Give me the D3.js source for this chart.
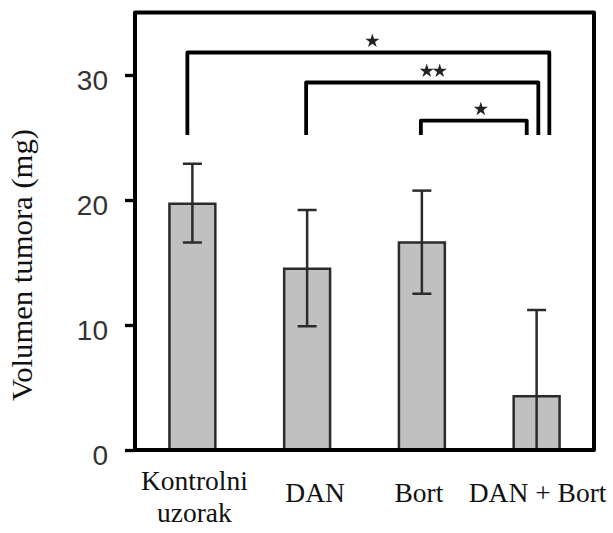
<!DOCTYPE html>
<html>
<head>
<meta charset="utf-8">
<script src="https://cdn.jsdelivr.net/npm/d3@7"></script>
<style>
  html, body { margin: 0; padding: 0; background: #fff; }
  svg { display: block; }
</style>
</head>
<body>
<div id="chart"></div>
<script>
// ---- data ----
const categories = ["Kontrolni uzorak", "DAN", "Bort", "DAN + Bort"];
const labelLines = [["Kontrolni", "uzorak"], ["DAN"], ["Bort"], ["DAN + Bort"]];
const means = [19.7, 14.5, 16.6, 4.3];
const errHigh = [22.9, 19.2, 20.75, 11.2];
const errLow = [16.6, 9.9, 12.5, 0];
const yTicks = [0, 10, 20, 30];
const yTitle = "Volumen tumora (mg)";
// significance brackets
const bracketFrom = [0, 1, 2];
const bracketTo = [3, 3, 3];
const bracketLevel = [31.8, 29.4, 26.35];
const bracketBase = 25.2;
const bracketStars = [1, 2, 1];

// ---- layout ----
const W = 613, H = 533;
const margin = { left: 135, right: 19, top: 12.5, bottom: 83 };

const svg = d3.select("#chart").append("svg")
  .attr("width", W).attr("height", H);
svg.append("rect").attr("width", W).attr("height", H).attr("fill", "#fff");

const x = d3.scaleBand()
  .domain(categories)
  .range([margin.left, W - margin.right])
  .paddingInner(0.6)
  .paddingOuter(0.3);

const y = d3.scaleLinear()
  .domain([0, 35])
  .range([H - margin.bottom, margin.top]);

const cx = i => x(categories[i]) + x.bandwidth() / 2;

// bars
svg.append("g").selectAll("rect")
  .data(categories)
  .join("rect")
  .attr("x", d => x(d))
  .attr("width", x.bandwidth())
  .attr("y", (d, i) => y(means[i]))
  .attr("height", (d, i) => y(0) - y(means[i]))
  .attr("fill", "#c0c0c0")
  .attr("stroke", "#2b2b2b")
  .attr("stroke-width", 2.5);

// error bars
const eb = svg.append("g").attr("stroke", "#2b2b2b").attr("stroke-width", 2.5).attr("fill", "none");
categories.forEach((c, i) => {
  const xc = cx(i);
  eb.append("line").attr("x1", xc).attr("x2", xc).attr("y1", y(errHigh[i])).attr("y2", y(errLow[i]));
  eb.append("line").attr("x1", xc - 9.5).attr("x2", xc + 9.5).attr("y1", y(errHigh[i])).attr("y2", y(errHigh[i]));
  if (errLow[i] > 0)
    eb.append("line").attr("x1", xc - 9.5).attr("x2", xc + 9.5).attr("y1", y(errLow[i])).attr("y2", y(errLow[i]));
});

// frame
svg.append("rect")
  .attr("x", margin.left).attr("y", y(35))
  .attr("width", W - margin.right - margin.left)
  .attr("height", y(0) - y(35))
  .attr("fill", "none").attr("stroke", "#000").attr("stroke-width", 4)
  .attr("stroke-linejoin", "round");

// y axis
const yAxis = svg.append("g")
  .attr("transform", `translate(${margin.left},0)`)
  .call(d3.axisLeft(y).tickValues(yTicks).tickSize(10).tickSizeOuter(0).tickPadding(17));
yAxis.select(".domain").remove();
yAxis.selectAll(".tick line").attr("stroke", "#000").attr("stroke-width", 3.3);
yAxis.selectAll(".tick text")
  .attr("font-family", "'Liberation Sans', Arial, sans-serif")
  .attr("font-size", 28)
  .attr("fill", "#333")
  .attr("dy", "0.5em");

// y title
svg.append("text")
  .attr("transform", "translate(32,265) rotate(-90)")
  .attr("text-anchor", "middle")
  .attr("font-family", "'Liberation Serif', 'Times New Roman', serif")
  .attr("font-size", 30)
  .attr("textLength", 272)
  .attr("lengthAdjust", "spacingAndGlyphs")
  .attr("fill", "#111")
  .text(yTitle);

// x labels
const xl = svg.append("g")
  .attr("font-family", "'Liberation Serif', 'Times New Roman', serif")
  .attr("font-size", 27.5)
  .attr("fill", "#111")
  .attr("text-anchor", "middle");
const labelDx = [2, 8, -3, 1];
labelLines.forEach((lines, i) => {
  const t = xl.append("text").attr("x", cx(i) + labelDx[i]);
  if (lines.length === 1) {
    t.attr("y", 502).text(lines[0]);
  } else {
    lines.forEach((ln, k) => {
      t.append("tspan").attr("x", cx(i) + labelDx[i]).attr("y", 490 + k * 31.5).text(ln);
    });
  }
});

// significance brackets
const leftDx = [-5, -1, -1];
const rightDx = [12.7, 1.7, -9.9];
const starDx = [4, 11, 7];
const br = svg.append("g");
const star = d3.symbol().type(d3.symbolStar).size(62);
bracketFrom.forEach((f, i) => {
  const x1 = cx(f) + leftDx[i];
  const x2 = cx(bracketTo[i]) + rightDx[i];
  const yt = y(bracketLevel[i]);
  const yb = y(bracketBase);
  br.append("path")
    .attr("d", `M${x1},${yb}V${yt}H${x2}V${yb}`)
    .attr("fill", "none").attr("stroke", "#000").attr("stroke-width", 3.8)
    .attr("stroke-linejoin", "round");
  const mid = (x1 + x2) / 2 + starDx[i];
  const n = bracketStars[i];
  for (let k = 0; k < n; k++) {
    const sx = mid + (k - (n - 1) / 2) * 13;
    br.append("path")
      .attr("d", star)
      .attr("transform", `translate(${sx},${yt - 11.5})`)
      .attr("fill", "#222");
  }
});
</script>
</body>
</html>
